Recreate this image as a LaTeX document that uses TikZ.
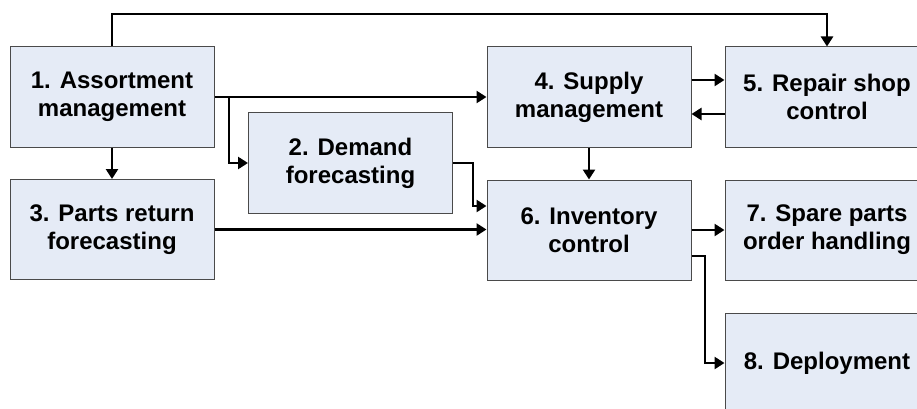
\documentclass[tikz,border=0pt]{standalone}
\usepackage{fontspec}
\setmainfont{Liberation Sans}
\usetikzlibrary{arrows.meta}
\definecolor{boxfill}{HTML}{E5EBF6}
\definecolor{boxline}{HTML}{4A4A4A}
\tikzset{
  procbox/.style={draw=boxline, line width=1pt, fill=boxfill, rectangle,
    minimum width=204pt, minimum height=100pt, inner sep=0pt, align=center,
    font=\fontsize{24}{28}\selectfont\bfseries},
  flow/.style={line width=2.6pt, -{Triangle[length=10pt,width=12pt]}}
}
\begin{document}
\begin{tikzpicture}[x=1pt,y=-1pt]
  \useasboundingbox (0,0) rectangle (917,409);
  \clip (0,0) rectangle (917,409);

  % process boxes
  \node[procbox] (b1) at (112,97)    {1. Assortment\\management};
  \node[procbox] (b2) at (350.5,163) {2. Demand\\forecasting};
  \node[procbox] (b3) at (112,229.5) {3. Parts return\\forecasting};
  \node[procbox] (b4) at (589,97)    {4. Supply\\management};
  \node[procbox] (b5) at (827,97)    {5. Repair shop\\control};
  \node[procbox] (b6) at (589,230)   {6. Inventory\\control};
  \node[procbox] (b7) at (827,230)   {7. Spare parts\\order handling};
  \node[procbox] (b8) at (827,363)   {8. Deployment};

  % routing points
  \coordinate (top) at (0,14);
  \coordinate (split) at (229,97);
  \coordinate (dbend) at (473,163);
  \coordinate (din) at (0,206);
  \coordinate (dout) at (705,256);

  % connectors
  \draw[flow] (b1.north) -- (b1.north |- top) -| (b5.north);
  \draw[flow] (b1.east) -- (b4.west);
  \draw[flow] (split) |- (b2.west);
  \draw[flow] (b1.south) -- (b3.north);
  \draw[flow] (b2.east) -- (dbend) |- (b6.west |- din);
  \draw[flow] (b3.east) -- (b3.east -| b6.west);
  \draw[flow] (b4.south) -- (b6.north);
  \draw[flow] ([yshift=17pt]b4.east) -- ([yshift=17pt]b5.west);
  \draw[flow] ([yshift=-17pt]b5.west) -- ([yshift=-17pt]b4.east);
  \draw[flow] (b6.east) -- (b7.west);
  \draw[flow] (b6.east |- dout) -- (dout) |- (b8.west);
\end{tikzpicture}
\end{document}
